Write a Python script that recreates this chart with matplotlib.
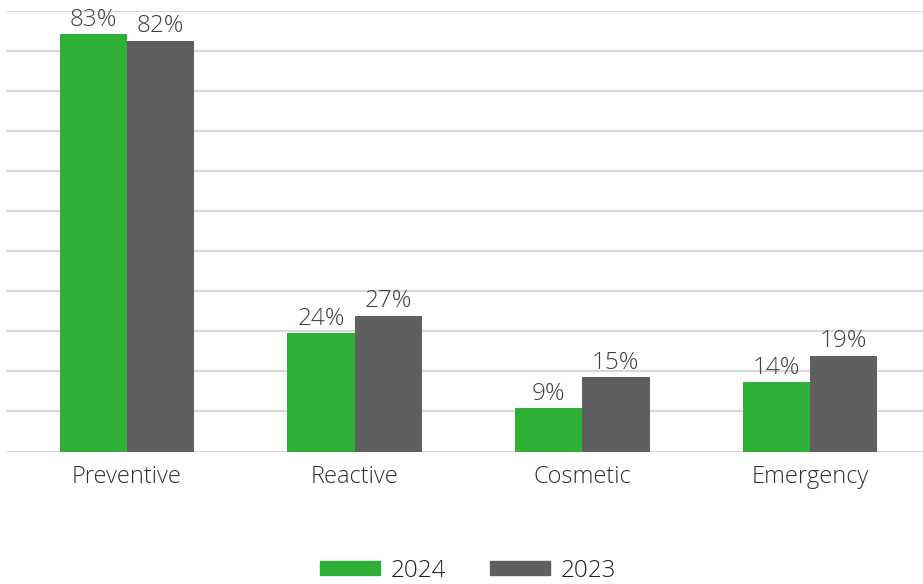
import matplotlib
matplotlib.use("Agg")
import matplotlib.pyplot as plt
import numpy as np
from matplotlib.patches import Patch

categories = ["Preventive", "Reactive", "Cosmetic", "Emergency"]
series_names = ["2024", "2023"]
values_2024 = [83.4, 23.6, 8.6, 13.8]
values_2023 = [82.1, 27.1, 14.8, 19.1]
colors = ["#2EAF36", "#5F5F5F"]

plt.rcParams['font.family'] = ['Open Sans', 'DejaVu Sans']

fig = plt.figure(figsize=(9.23, 5.84), dpi=100)
W, H = 923, 584
ax = fig.add_axes([6 / W, (H - 451.5) / H, (923 - 6) / W, 440.5 / H])

x = np.arange(len(categories))
bw = 0.295
b1 = ax.bar(x - bw / 2, values_2024, bw, color=colors[0], zorder=3)
b2 = ax.bar(x + bw / 2, values_2023, bw, color=colors[1], zorder=3)

for bars, vals in ((b1, values_2024), (b2, values_2023)):
    for rect, v in zip(bars, vals):
        ax.text(rect.get_x() + rect.get_width() / 2, rect.get_height() + 0.5, f"{v:.0f}%",
                ha="center", va="bottom", fontsize=17.5, color="#404040", fontweight="light")

ax.set_ylim(0, 88)
ax.set_yticks(np.arange(0, 89, 8))
ax.set_xlim(-0.531, 3.496)
ax.yaxis.grid(True, color="#D9D9D9", linewidth=1.6, zorder=0)
ax.set_axisbelow(True)
for s in ax.spines.values():
    s.set_visible(False)
ax.tick_params(axis="y", left=False, labelleft=False)
ax.tick_params(axis="x", bottom=False, pad=6)
ax.set_xticks(x)
ax.set_xticklabels(categories, fontsize=17, color="#303030", fontweight="light")

handles = [Patch(color=c) for c in colors]
fig.legend(handles, series_names, loc="center", bbox_to_anchor=(468 / W, 1 - 571 / H),
           ncol=2, frameon=False, prop={'size': 17.5, 'weight': 'light'},
           handlelength=2.47, handleheight=0.5,
           columnspacing=1.77, handletextpad=0.45, labelcolor="#202020")

fig.savefig("out.png", dpi=100)
